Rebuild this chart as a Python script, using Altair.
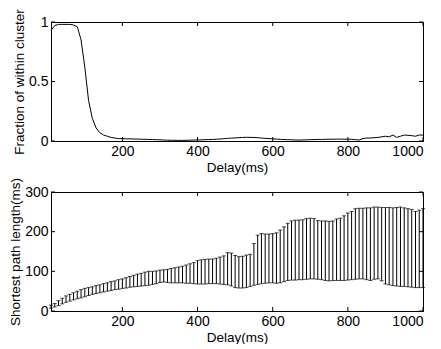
import altair as alt
import pandas as pd

# ---- data ----
delay = list(range(10, 1001, 10))

fraction = [
    0.93, 0.97, 0.98, 0.98, 0.98, 0.98, 0.975, 0.96, 0.85, 0.62,
    0.34, 0.19, 0.11, 0.07, 0.05, 0.04, 0.03, 0.025, 0.02, 0.02,
    0.018, 0.018, 0.017, 0.016, 0.015, 0.014, 0.013, 0.012, 0.011, 0.010,
    0.008, 0.007, 0.006, 0.006, 0.005, 0.005, 0.006, 0.007, 0.008, 0.009,
    0.010, 0.011, 0.012, 0.013, 0.015, 0.017, 0.019, 0.022, 0.024, 0.026,
    0.028, 0.030, 0.031, 0.030, 0.030, 0.028, 0.025, 0.022, 0.020, 0.018,
    0.016, 0.014, 0.012, 0.011, 0.010, 0.009, 0.008, 0.009, 0.010, 0.011,
    0.012, 0.013, 0.013, 0.014, 0.015, 0.015, 0.016, 0.016, 0.015, 0.015,
    0.014, 0.012, 0.008, 0.020, 0.025, 0.025, 0.028, 0.030, 0.035, 0.040,
    0.035, 0.050, 0.030, 0.040, 0.050, 0.048, 0.045, 0.040, 0.050, 0.050,
]

upper = [
    15, 19, 26, 32, 38, 42, 46, 50, 54, 57,
    59, 61, 64, 66, 69, 71, 74, 76, 79, 81,
    84, 87, 90, 93, 95, 98, 100, 100, 101, 103,
    104, 105, 107, 109, 111, 113, 116, 119, 122, 127,
    129, 130, 131, 131, 133, 136, 139, 147, 146, 140,
    137, 138, 141, 143, 170, 191, 195, 194, 194, 195,
    197, 204, 212, 221, 227, 229, 229, 230, 233, 234,
    233, 228, 227, 227, 226, 227, 232, 234, 240, 247,
    251, 258, 259, 259, 260, 260, 262, 262, 261, 261,
    261, 260, 261, 262, 260, 258, 256, 251, 254, 258,
]

lower = [
    7, 10, 14, 18, 22, 25, 28, 31, 33, 36,
    39, 42, 44, 46, 48, 50, 52, 54, 55, 57,
    58, 60, 61, 62, 63, 64, 65, 67, 69, 72,
    73, 72, 71, 71, 71, 71, 70, 70, 69, 68,
    68, 68, 69, 69, 69, 68, 67, 66, 63, 59,
    58, 58, 59, 62, 65, 67, 69, 70, 71, 71,
    70, 71, 74, 77, 78, 78, 79, 79, 80, 81,
    81, 80, 79, 77, 76, 77, 77, 77, 77, 78,
    79, 80, 81, 81, 79, 77, 80, 81, 76, 68,
    66, 64, 63, 62, 62, 61, 60, 59, 59, 59,
]

x_ticks = [200, 400, 600, 800, 1000]
y_ticks_top = [0, 0.5, 1]
y_ticks_bottom = [0, 100, 200, 300]

# ---- chart ----
W, H = 372, 119
FONT = "Liberation Sans"
TICK = 4

df_top = pd.DataFrame({"delay": delay, "fraction": fraction})
df_bot = pd.DataFrame({"delay": delay, "upper": upper, "lower": lower})
df_xt = pd.DataFrame({"t": x_ticks})

xscale = alt.Scale(domain=[10, 1000], nice=False, zero=False)
XAXIS = alt.Axis(values=x_ticks, format="d", title="Delay(ms)",
                 labelPadding=3, titlePadding=2)


def inner_ticks(yvals, yscale, yaxis):
    df_yt = pd.DataFrame({"t": yvals})
    xb = alt.Chart(df_xt).mark_rule(color="black", strokeWidth=1).encode(
        x=alt.X("t:Q", scale=xscale, axis=XAXIS), y=alt.value(H), y2=alt.value(H - TICK))
    xt = alt.Chart(df_xt).mark_rule(color="black", strokeWidth=1).encode(
        x=alt.X("t:Q", scale=xscale, axis=XAXIS), y=alt.value(0), y2=alt.value(TICK))
    yl = alt.Chart(df_yt).mark_rule(color="black", strokeWidth=1).encode(
        y=alt.Y("t:Q", scale=yscale, axis=yaxis), x=alt.value(0), x2=alt.value(TICK))
    yr = alt.Chart(df_yt).mark_rule(color="black", strokeWidth=1).encode(
        y=alt.Y("t:Q", scale=yscale, axis=yaxis), x=alt.value(W - TICK), x2=alt.value(W))
    return [xb, xt, yl, yr]


yscale_top = alt.Scale(domain=[0, 1], nice=False)
yaxis_top = alt.Axis(values=y_ticks_top, format="~g", title="Fraction of within cluster",
                     labelPadding=3, titlePadding=2)
line = alt.Chart(df_top).mark_line(color="black", strokeWidth=1).encode(
    x=alt.X("delay:Q", scale=xscale, axis=XAXIS),
    y=alt.Y("fraction:Q", scale=yscale_top, axis=yaxis_top),
)
top = alt.layer(line, *inner_ticks(y_ticks_top, yscale_top, yaxis_top)).properties(width=W, height=H)

yscale_bot = alt.Scale(domain=[0, 300], nice=False)
yaxis_bot = alt.Axis(values=y_ticks_bottom, format="d", title="Shortest path length(ms)",
                     labelPadding=3, titlePadding=2)
bars = alt.Chart(df_bot).mark_rule(color="black", strokeWidth=1).encode(
    x=alt.X("delay:Q", scale=xscale, axis=XAXIS),
    y=alt.Y("lower:Q", scale=yscale_bot, axis=yaxis_bot),
    y2="upper:Q",
)
cap_hi = alt.Chart(df_bot).mark_tick(color="black", orient="horizontal", size=4, thickness=1).encode(
    x=alt.X("delay:Q", scale=xscale, axis=XAXIS),
    y=alt.Y("upper:Q", scale=yscale_bot, axis=yaxis_bot),
)
cap_lo = alt.Chart(df_bot).mark_tick(color="black", orient="horizontal", size=4, thickness=1).encode(
    x=alt.X("delay:Q", scale=xscale, axis=XAXIS),
    y=alt.Y("lower:Q", scale=yscale_bot, axis=yaxis_bot),
)
bottom = alt.layer(bars, cap_hi, cap_lo, *inner_ticks(y_ticks_bottom, yscale_bot, yaxis_bot)).properties(width=W, height=H)

chart = alt.vconcat(top, bottom, spacing=51, bounds="flush").properties(
    padding={"left": 0, "top": 0, "right": 5, "bottom": 0},
    background="white",
).configure_view(
    stroke="black", strokeWidth=1
).configure_axis(
    grid=False, ticks=False, domain=True, domainColor="black", domainWidth=1,
    labelColor="black", titleColor="black",
    labelFont=FONT, titleFont=FONT, labelFontSize=14, titleFontSize=13.5,
    titleFontWeight="normal",
)

chart.save("out.html", embed_options={"renderer": "svg", "actions": False})
